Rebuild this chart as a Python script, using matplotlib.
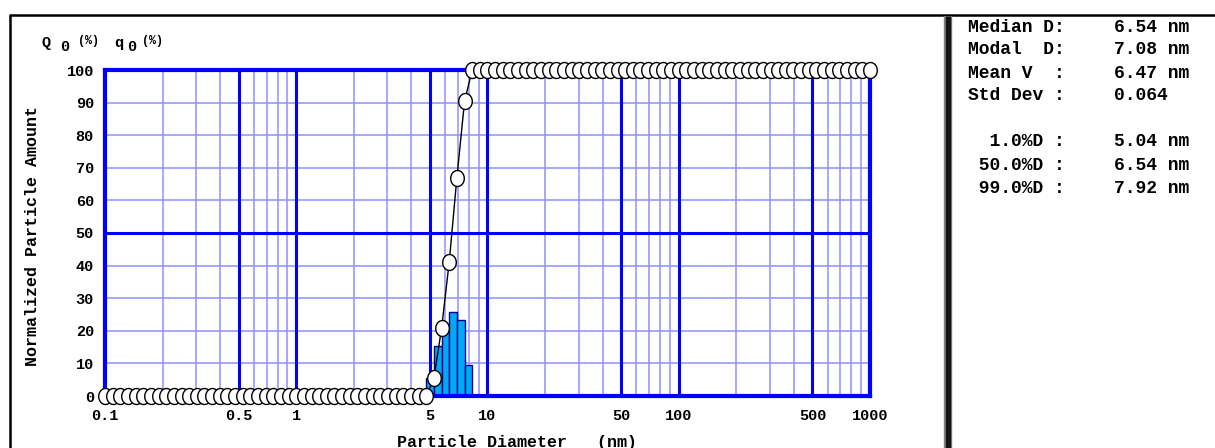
import numpy as np
import matplotlib
matplotlib.use("Agg")
import matplotlib.pyplot as plt
from matplotlib.path import Path
from matplotlib.lines import Line2D

# ---------------- data ----------------
# instrument size grid: 25 log-spaced channels per decade, 0.1 .. 1000 nm (channel edges)
diam_edges = np.logspace(-1, 3, 101)
# cumulative undersize Q0 (%) at each channel edge
cum_low = [0.0] * 43
cum_rise = [5.5, 20.8, 41.2, 67.0, 90.4]
cum_high = [100.0] * 53
cumulative = cum_low + cum_rise + cum_high
# frequency q0 (%) of the non-empty channels (channels 42..47)
freq_first_channel = 42
frequency = [5.5, 15.3, 20.4, 25.8, 23.4, 9.6]

x_major = [0.1, 0.5, 1, 5, 10, 50, 100, 500, 1000]
x_major_labels = ["0.1", "0.5", "1", "5", "10", "50", "100", "500", "1000"]
x_minor = [0.2, 0.3, 0.4, 0.6, 0.7, 0.8, 0.9,
           2, 3, 4, 6, 7, 8, 9,
           20, 30, 40, 60, 70, 80, 90,
           200, 300, 400, 600, 700, 800, 900]
y_ticks = [0, 10, 20, 30, 40, 50, 60, 70, 80, 90, 100]

stat_labels = ["Median D:", "Modal  D:", "Mean V  :", "Std Dev :",
               "  1.0%D :", " 50.0%D :", " 99.0%D :"]
stat_values = ["6.54 nm", "7.08 nm", "6.47 nm", "0.064",
               "5.04 nm", "6.54 nm", "7.92 nm"]

# ---------------- figure ----------------
W, H = 1215, 448
fig = plt.figure(figsize=(W / 100, H / 100), dpi=100)
fig.patch.set_facecolor("white")

def fx(x):
    return x / W

def fy(y):
    return 1 - y / H

MONO = "Liberation Mono"
BLUE = "#0000FF"
LIGHT = "#9090FF"

ax = fig.add_axes([fx(105), fy(396), fx(870) - fx(105), fy(70) - fy(396)])
ax.set_xscale("log")
ax.set_xlim(0.1, 1000)
ax.set_ylim(0, 100)

# grid
for v in x_minor:
    ax.axvline(v, color=LIGHT, lw=1.1, zorder=0.5)
for v in x_major[1:-1]:
    ax.axvline(v, color=BLUE, lw=2.2, zorder=0.6)
for v in y_ticks[1:-1]:
    ax.axhline(v, color=LIGHT, lw=1.1, zorder=0.5)
ax.axhline(50, color=BLUE, lw=2.2, zorder=0.6)

for s in ax.spines.values():
    s.set_color(BLUE)
    s.set_linewidth(3.0)

ax.set_xticks(x_major)
ax.set_xticklabels(x_major_labels)
ax.set_xticks([], minor=True)
ax.set_yticks(y_ticks)
ax.set_yticklabels([str(v) for v in y_ticks])
ax.tick_params(axis="both", length=0)
ax.tick_params(axis="x", pad=9)
ax.tick_params(axis="y", pad=8)
for lab in ax.get_xticklabels() + ax.get_yticklabels():
    lab.set_fontfamily(MONO)
    lab.set_fontweight("bold")
    lab.set_fontsize(11)

# bars (frequency)
lefts = diam_edges[freq_first_channel:freq_first_channel + len(frequency)]
rights = diam_edges[freq_first_channel + 1:freq_first_channel + 1 + len(frequency)]
ax.bar(lefts, frequency, width=rights - lefts, align="edge",
       color="#00AAF2", edgecolor="#000090", linewidth=1.0, zorder=2)

# cumulative curve with elliptical open markers
t = np.linspace(0, 2 * np.pi, 60)
ell = Path(np.column_stack([0.85 * np.cos(t), np.sin(t)]), closed=True)
ax.plot(diam_edges, cumulative, color="black", lw=1.0,
        marker=ell, ms=11.5, mfc="white", mec="black", mew=1.0,
        clip_on=False, zorder=5)

# axis labels
fig.text(fx(397), fy(442), "Particle Diameter   (nm)", family=MONO,
         weight="bold", fontsize=12, ha="left", va="center")
fig.text(fx(33), fy(236), "Normalized Particle Amount", family=MONO,
         weight="bold", fontsize=12, rotation=90, ha="center", va="center")

# Q0 / q0 header
fig.text(fx(42), fy(43), "Q", family=MONO, weight="bold", fontsize=11,
         ha="left", va="center")
fig.text(fx(60), fy(47), "0", family=MONO, weight="bold", fontsize=11,
         ha="left", va="center")
fig.text(fx(78), fy(41), "(%)", family=MONO, weight="bold", fontsize=8.5,
         ha="left", va="center")
fig.text(fx(114), fy(43), "q", family=MONO, weight="bold", fontsize=11,
         ha="left", va="center")
fig.text(fx(127), fy(47), "0", family=MONO, weight="bold", fontsize=11,
         ha="left", va="center")
fig.text(fx(142), fy(41), "(%)", family=MONO, weight="bold", fontsize=8.5,
         ha="left", va="center")

# statistics panel
stat_y = [27, 50, 73, 96, 142, 165, 188]
for yy, lab, val in zip(stat_y, stat_labels, stat_values):
    fig.text(fx(968), fy(yy), lab, family=MONO, weight="bold", fontsize=13,
             ha="left", va="center")
    fig.text(fx(1114), fy(yy), val, family=MONO, weight="bold", fontsize=13,
             ha="left", va="center")

# frame lines
fig.add_artist(Line2D([fx(9), fx(W)], [fy(15), fy(15)], color="black", lw=1.8,
                      solid_capstyle="butt"))
fig.add_artist(Line2D([fx(10), fx(10)], [fy(15), fy(H)], color="black", lw=1.8,
                      solid_capstyle="butt"))
fig.add_artist(Line2D([fx(948), fx(948)], [fy(16), fy(H)], color="#808080", lw=6.0,
                      solid_capstyle="butt"))
fig.add_artist(Line2D([fx(948), fx(948)], [fy(16), fy(H)], color="#151515", lw=3.8,
                      solid_capstyle="butt"))

fig.savefig("out.png", dpi=100, facecolor="white")
